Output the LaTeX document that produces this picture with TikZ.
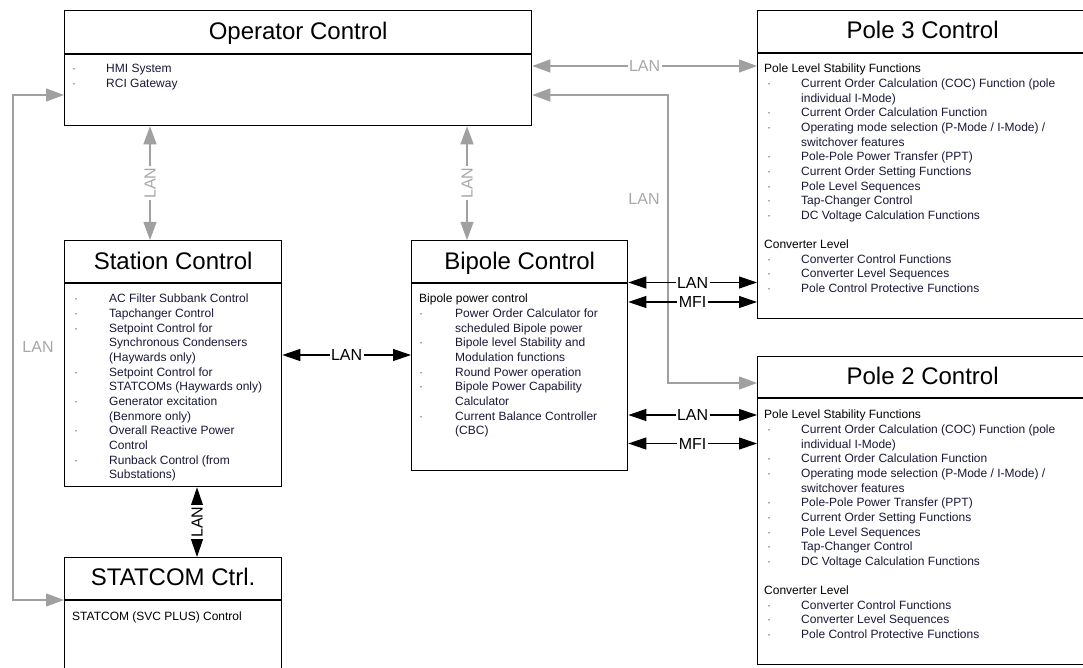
\documentclass[tikz,border=0pt]{standalone}
\usepackage{fontspec}
\setmainfont{Liberation Sans}
\usetikzlibrary{arrows.meta,calc}
\definecolor{gline}{RGB}{160,160,160}
\definecolor{glabc}{RGB}{168,168,168}
\definecolor{itemc}{RGB}{24,24,54}
\definecolor{dotc}{RGB}{90,90,90}
\newlength\bulx \newlength\txtx
\newcommand\li[1]{\strut\makebox[\txtx][l]{\hspace*{\bulx}\textcolor{dotc}{·}}\textcolor{itemc}{#1}}
\newcommand\lc[1]{\strut\hspace*{\txtx}\textcolor{itemc}{#1}}
\newcommand\hd[1]{\strut #1}
\tikzset{
  box/.style={draw=black, line width=1.3pt, inner sep=0pt, anchor=north west},
  divl/.style={draw=black, line width=1.3pt},
  ttl/.style={font=\fontsize{24}{28}\selectfont, inner sep=0pt, anchor=base},
  body/.style={anchor=north west, inner sep=0pt, align=left},
  gconn/.style={draw=gline, line width=1.2pt, {Triangle[length=18pt,width=13pt]}-{Triangle[length=18pt,width=13pt]}},
  bconn/.style={draw=black, line width=1.1pt, {Triangle[length=18pt,width=12pt]}-{Triangle[length=18pt,width=12pt]}},
  glab/.style={text=glabc, fill=white, font=\fontsize{16}{18}\selectfont, inner sep=1.5pt},
  blab/.style={text=black, fill=white, font=\fontsize{16}{18}\selectfont, inner sep=1.5pt},
}
\begin{document}
\begin{tikzpicture}[x=1pt,y=-1pt]
\useasboundingbox (0,0) rectangle (1083,668);
\clip (0,0) rectangle (1083,668);

% ---------- boxes ----------
\node[box, minimum width=467pt, minimum height=115pt] (op) at (64,10) {};
\node[box, minimum width=330pt, minimum height=308pt] (p3) at (757,10) {};
\node[box, minimum width=217pt, minimum height=246pt] (st) at (64,240) {};
\node[box, minimum width=216pt, minimum height=230pt] (bp) at (411,240) {};
\node[box, minimum width=330pt, minimum height=308pt] (p2) at (757,356) {};
\node[box, minimum width=217pt, minimum height=130pt] (sc) at (64,557) {};

% dividers
\draw[divl] ($(op.north west)+(0,44)$) -- ($(op.north east)+(0,44)$);
\draw[divl] ($(p3.north west)+(0,43)$) -- ($(p3.north east)+(0,43)$);
\draw[divl] ($(p2.north west)+(0,42)$) -- ($(p2.north east)+(0,42)$);
\draw[divl] ($(st.north west)+(0,43)$) -- ($(st.north east)+(0,43)$);
\draw[divl] ($(bp.north west)+(0,43)$) -- ($(bp.north east)+(0,43)$);
\draw[divl] ($(sc.north west)+(0,43)$) -- ($(sc.north east)+(0,43)$);

% titles
\node[ttl] (opt) at ($(op.north)+(0,29.5)$) {Operator Control};
\node[ttl] (p3t) at ($(p3.north)+(0,28.3)$) {Pole 3 Control};
\node[ttl] (p2t) at ($(p2.north)+(0,28.3)$) {Pole 2 Control};
\node[ttl] (stt) at ($(st.north)+(0,29.3)$) {Station Control};
\node[ttl] (bpt) at ($(bp.north)+(0,29.3)$) {Bipole Control};
\node[ttl] (sct) at ($(sc.north)+(0,28.7)$) {STATCOM Ctrl.};

% ---------- body texts ----------
\node[body, font={\fontsize{12}{14.65}\selectfont\setlength{\txtx}{34pt}\setlength{\bulx}{0pt}}] (opb) at (72,62) {%
\li{HMI System}\\
\li{RCI Gateway}};

\node[body, font={\fontsize{12}{14.65}\selectfont\setlength{\txtx}{37pt}\setlength{\bulx}{3pt}}] (p3b) at (764,62.4) {%
\hd{Pole Level Stability Functions}\\
\li{Current Order Calculation (COC) Function (pole}\\
\lc{individual I-Mode)}\\
\li{Current Order Calculation Function}\\
\li{Operating mode selection (P-Mode / I-Mode) /}\\
\lc{switchover features}\\
\li{Pole-Pole Power Transfer (PPT)}\\
\li{Current Order Setting Functions}\\
\li{Pole Level Sequences}\\
\li{Tap-Changer Control}\\
\li{DC Voltage Calculation Functions}\\
\strut\\
\hd{Converter Level}\\
\li{Converter Control Functions}\\
\li{Converter Level Sequences}\\
\li{Pole Control Protective Functions}};

\node[body, font={\fontsize{12}{14.65}\selectfont\setlength{\txtx}{37pt}\setlength{\bulx}{3pt}}] (p2b) at (764,408.4) {%
\hd{Pole Level Stability Functions}\\
\li{Current Order Calculation (COC) Function (pole}\\
\lc{individual I-Mode)}\\
\li{Current Order Calculation Function}\\
\li{Operating mode selection (P-Mode / I-Mode) /}\\
\lc{switchover features}\\
\li{Pole-Pole Power Transfer (PPT)}\\
\li{Current Order Setting Functions}\\
\li{Pole Level Sequences}\\
\li{Tap-Changer Control}\\
\li{DC Voltage Calculation Functions}\\
\strut\\
\hd{Converter Level}\\
\li{Converter Control Functions}\\
\li{Converter Level Sequences}\\
\li{Pole Control Protective Functions}};

\node[body, font={\fontsize{12}{14.65}\selectfont\setlength{\txtx}{35pt}\setlength{\bulx}{0pt}}] (stb) at (74,292.4) {%
\li{AC Filter Subbank Control}\\
\li{Tapchanger Control}\\
\li{Setpoint Control for}\\
\lc{Synchronous Condensers}\\
\lc{(Haywards only)}\\
\li{Setpoint Control for}\\
\lc{STATCOMs (Haywards only)}\\
\li{Generator excitation}\\
\lc{(Benmore only)}\\
\li{Overall Reactive Power}\\
\lc{Control}\\
\li{Runback Control (from}\\
\lc{Substations)}};

\node[body, font={\fontsize{12}{14.65}\selectfont\setlength{\txtx}{36pt}\setlength{\bulx}{0pt}}] (bpb) at (419,292.4) {%
\hd{Bipole power control}\\
\li{Power Order Calculator for}\\
\lc{scheduled Bipole power}\\
\li{Bipole level Stability and}\\
\lc{Modulation functions}\\
\li{Round Power operation}\\
\li{Bipole Power Capability}\\
\lc{Calculator}\\
\li{Current Balance Controller}\\
\lc{(CBC)}};

\node[anchor=base west, inner sep=0pt, font=\fontsize{12}{14.65}\selectfont] (scb) at (72,620) {STATCOM (SVC PLUS) Control};

% ---------- connectors ----------
% Operator <-> Pole 3 (gray LAN)
\draw[gconn] ($(op.north east)+(0,56)$) -- node[glab] (l1) {LAN} ($(p3.north west)+(0,56)$);
% Operator <-> Pole 2 (gray LAN, routed)
\draw[gconn] ($(op.north east)+(0,85)$) -| ($(p2.north west)+(-89,27)$) -- ($(p2.north west)+(0,27)$);
\node[glab] (l2) at (644,199) {LAN};
% Operator <-> Station
\draw[gconn] ($(op.south west)+(86,0)$) -- node[glab, rotate=90] (l3) {LAN} ($(st.north west)+(86,0)$);
% Operator <-> Bipole
\draw[gconn] ($(op.south west)+(403,0)$) -- node[glab, rotate=90] (l4) {LAN} ($(bp.north west)+(56,0)$);
% Operator <-> STATCOM (left loop)
\draw[gconn] ($(op.north west)+(0,85)$) -| ($(sc.north west)+(-51,43)$) -- ($(sc.north west)+(0,43)$);
\node[glab] (l5) at (38,347) {LAN};
% Station <-> Bipole
\draw[bconn] ($(st.north east)+(0,115)$) -- node[blab] (l6) {LAN} ($(bp.north west)+(0,115)$);
% Station <-> STATCOM
\draw[bconn] ($(st.south west)+(133,0)$) -- node[blab, rotate=90] (l7) {LAN} ($(sc.north west)+(133,0)$);
% Bipole <-> Pole 3
\draw[bconn] ($(bp.north east)+(0,42.5)$) -- node[blab] (l8) {LAN} ($(p3.north west)+(0,272.5)$);
\draw[bconn] ($(bp.north east)+(0,62)$) -- node[blab] (l9) {MFI} ($(p3.north west)+(0,292)$);
% Bipole <-> Pole 2
\draw[bconn] ($(bp.north east)+(0,175)$) -- node[blab] (l10) {LAN} ($(p2.north west)+(0,59)$);
\draw[bconn] ($(bp.north east)+(0,203.5)$) -- node[blab] (l11) {MFI} ($(p2.north west)+(0,87.5)$);
\end{tikzpicture}
\end{document}
